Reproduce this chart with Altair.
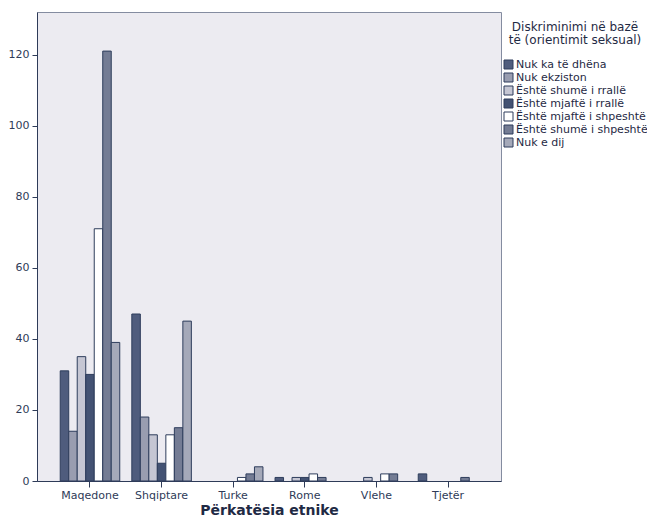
import altair as alt
import pandas as pd

groups = ["Maqedone", "Shqiptare", "Turke", "Rome", "Vlehe", "Tjetër"]
cats = [
    "Nuk ka të dhëna",
    "Nuk ekziston",
    "Është shumë i rrallë",
    "Është mjaftë i rrallë",
    "Është mjaftë i shpeshtë",
    "Është shumë i shpeshtë",
    "Nuk e dij",
]
maqedone = [31, 14, 35, 30, 71, 121, 39]
shqiptare = [47, 18, 13, 5, 13, 15, 45]
turke = [0, 0, 0, 0, 1, 2, 4]
rome = [1, 0, 1, 1, 2, 1, 0]
vlehe = [0, 0, 1, 0, 2, 2, 0]
tjeter = [2, 0, 0, 0, 0, 1, 0]
colors = ["#4f5c7d", "#999db0", "#c5c6d3", "#435273", "#ffffff", "#747c94", "#a5a9b9"]

rows = []
for g, vals in zip(groups, [maqedone, shqiptare, turke, rome, vlehe, tjeter]):
    for c, v in zip(cats, vals):
        if v > 0:
            rows.append({"group": g, "cat": c, "value": v})
df = pd.DataFrame(rows)

ink = "#2e3b58"

chart = (
    alt.Chart(df)
    .mark_bar(stroke="#2e3d5c", strokeWidth=1)
    .encode(
        x=alt.X(
            "group:N",
            sort=groups,
            scale=alt.Scale(domain=groups, paddingInner=0, paddingOuter=0.24),
            axis=alt.Axis(
                title="Përkatësia etnike",
                labelAngle=0,
                tickSize=6,
                labelPadding=2,
                titlePadding=3,
                titleFontSize=14,
                titleFontWeight="bold",
                titleColor="#1f2a44",
            ),
        ),
        xOffset=alt.XOffset(
            "cat:N",
            sort=cats,
            scale=alt.Scale(domain=cats, paddingInner=0, paddingOuter=0.71),
        ),
        y=alt.Y(
            "value:Q",
            scale=alt.Scale(domain=[0, 132], nice=False),
            axis=alt.Axis(
                title=None,
                values=[0, 20, 40, 60, 80, 100, 120],
                tickSize=5,
                labelPadding=3,
                grid=False,
            ),
        ),
        color=alt.Color(
            "cat:N",
            sort=cats,
            scale=alt.Scale(domain=cats, range=colors),
            legend=alt.Legend(
                title=["Diskriminimi në bazë", "të (orientimit seksual)"],
                orient="none",
                legendX=466,
                legendY=10,
                symbolType="square",
                symbolSize=81,
                symbolStrokeColor="#2e3d5c",
                symbolStrokeWidth=1,
                symbolOpacity=1,
                labelFontSize=11,
                labelColor="#1f2a44",
                labelOffset=2,
                rowPadding=0,
                titleFontSize=12,
                titleFontWeight="normal",
                titleColor="#1f2a44",
                titleAnchor="middle",
                titleAlign="center",
                titleLineHeight=13,
                titlePadding=12,
                padding=0,
            ),
        ),
    )
    .properties(
        width=464,
        height=469,
        autosize=alt.AutoSizeParams(type="none"),
        padding={"left": 29, "top": 4, "right": 146, "bottom": 39},
    )
    .configure(font="DejaVu Sans")
    .configure_view(stroke="#848ca0", fill="#ecebf1")
    .configure_axis(
        domainColor=ink,
        tickColor=ink,
        labelColor=ink,
        labelFontSize=11,
        labelFont="DejaVu Sans",
        titleFont="DejaVu Sans",
    )
    .configure_legend(labelFont="DejaVu Sans", titleFont="DejaVu Sans")
)

chart.save("out.html", embed_options={"renderer": "svg", "actions": False})
